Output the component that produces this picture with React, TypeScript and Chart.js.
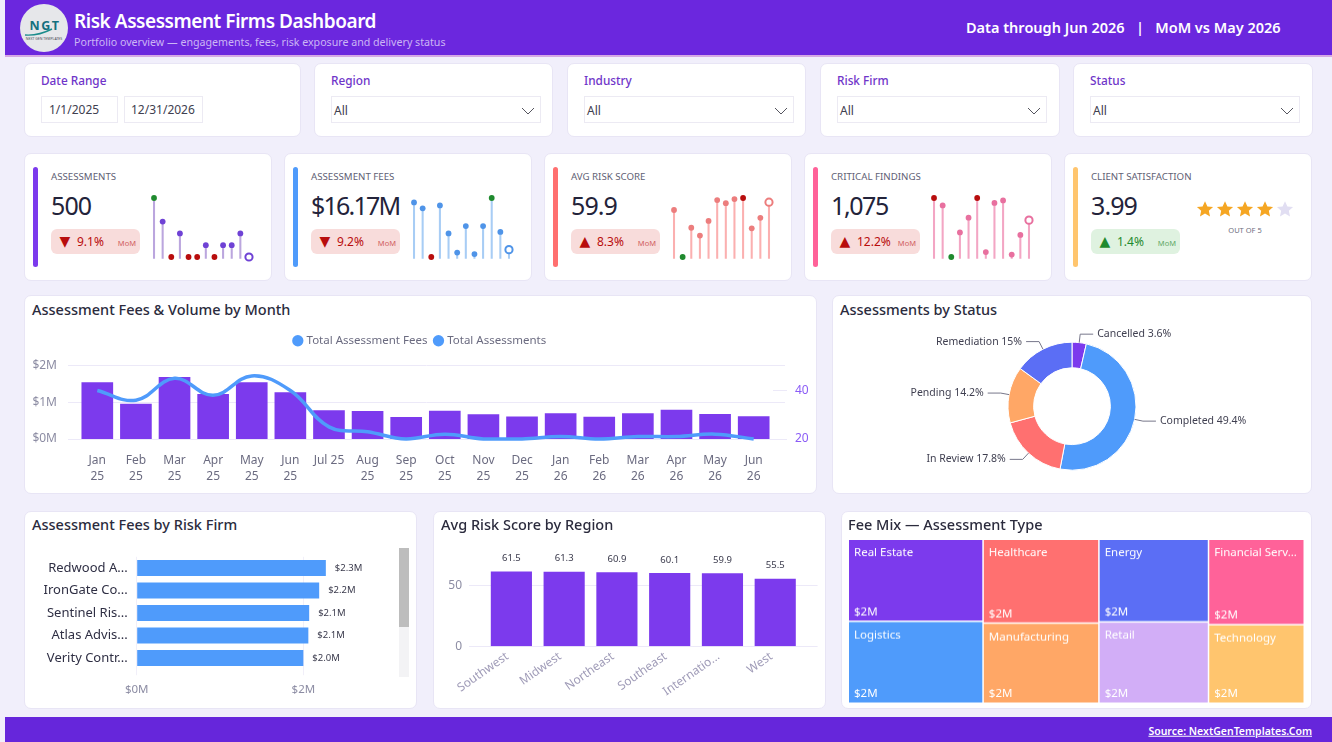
import React, { useEffect, useRef } from "react";
import { Chart, registerables } from "chart.js";

Chart.register(...registerables);

const FONT = '"Noto Sans", "Open Sans", sans-serif';
Chart.defaults.font.family = FONT;

const PURPLE = "#7C3AED";
const BLUE = "#4F9BFB";
const CORAL = "#FF7070";
const ORANGE = "#FFA766";
const INDIGO = "#5B6EF5";
const PINK = "#FF6299";
const AMBER = "#FFC56E";
const LILAC = "#D2AEF7";
const GRID = "#ECE9F8";

// monthly chart
const months = [
  ["Jan", "25"], ["Feb", "25"], ["Mar", "25"], ["Apr", "25"], ["May", "25"], ["Jun", "25"],
  "Jul 25",
  ["Aug", "25"], ["Sep", "25"], ["Oct", "25"], ["Nov", "25"], ["Dec", "25"],
  ["Jan", "26"], ["Feb", "26"], ["Mar", "26"], ["Apr", "26"], ["May", "26"], ["Jun", "26"],
];
const monthlyFees = [1.53, 0.95, 1.67, 1.21, 1.53, 1.26, 0.77, 0.75, 0.585, 0.76, 0.665, 0.6, 0.69, 0.595, 0.69, 0.785, 0.67, 0.61];
const monthlyAssessments = [40, 36, 45, 38, 46, 40, 25, 23, 20, 22, 20, 20, 21, 20, 21, 21, 22, 20];

// sparklines (last 12 months)
const riskScoreTrend = [64, 55, 60.6, 59.1, 61.9, 65.9, 65.3, 66.1, 66.3, 60.5, 62.5, 65.5];
const criticalTrend = [62, 59, 38, 48, 54, 62, 40, 60, 61, 39, 47, 53];

// donut
const statusNames = ["Cancelled", "Completed", "In Review", "Pending", "Remediation"];
const statusShares = [3.6, 49.4, 17.8, 14.2, 15];
const statusColors = [PURPLE, BLUE, CORAL, ORANGE, INDIGO];

// firms
const firmNames = ["Redwood A...", "IronGate Co...", "Sentinel Ris...", "Atlas Advis...", "Verity Contr..."];
const firmFees = [2.27, 2.19, 2.07, 2.06, 2.0];

// regions
const regionNames = ["Southwest", "Midwest", "Northeast", "Southeast", "Internatio...", "West"];
const regionScores = [61.5, 61.3, 60.9, 60.1, 59.9, 55.5];

// treemap
const tileNames = ["Real Estate", "Logistics", "Healthcare", "Manufacturing", "Energy", "Retail", "Financial Serv...", "Technology"];
const tileFees = [2.38, 2.38, 2.09, 2.0, 1.95, 1.92, 1.76, 1.62];
const tileColumns = [0, 0, 1, 1, 2, 2, 3, 3];
const tileColors = [PURPLE, BLUE, CORAL, ORANGE, INDIGO, LILAC, PINK, AMBER];

const filterNames = ["Region", "Industry", "Risk Firm", "Status"];
const filterLefts = [314, 567, 820, 1073];

function ChartBox({ x, y, w, h, make }) {
  const ref = useRef(null);
  useEffect(() => {
    const chart = new Chart(ref.current.getContext("2d"), make());
    return () => chart.destroy();
  }, []);
  return (
    <canvas ref={ref} width={w} height={h} style={{ position: "absolute", left: x, top: y, width: w, height: h }} />
  );
}

function T({ x, y, size, color = "#2B2B3D", weight = 400, right = false, center = false, style = {}, children }) {
  const tx = center ? "-50%" : right ? "-100%" : "0";
  return (
    <div style={{ position: "absolute", left: x, top: y, fontSize: size, color, fontWeight: weight, lineHeight: 1, whiteSpace: "nowrap", transform: `translate(${tx}, -50%)`, ...style }}>
      {children}
    </div>
  );
}

function Card({ x, y, w, h }) {
  return <div style={{ position: "absolute", left: x, top: y, width: w - 2, height: h - 2, background: "#fff", border: "1px solid #E8E5F5", borderRadius: 7 }} />;
}

// grid lines reach a bit past the plot on both sides
const gridBleed = {
  id: "gridBleed",
  beforeDatasetsDraw(chart, _args, opts) {
    const { ctx, chartArea, scales } = chart;
    ctx.save();
    ctx.strokeStyle = GRID;
    ctx.lineWidth = 1;
    scales.y.ticks.forEach((t) => {
      const py = Math.round(scales.y.getPixelForValue(t.value)) + 0.5;
      ctx.beginPath();
      ctx.moveTo(chartArea.left - opts.left, py);
      ctx.lineTo(chartArea.right + opts.right, py);
      ctx.stroke();
    });
    ctx.restore();
  },
};

const barValues = {
  id: "barValues",
  afterDatasetsDraw(chart, _args, opts) {
    const { ctx } = chart;
    ctx.save();
    ctx.font = `${opts.size}px ${FONT}`;
    ctx.fillStyle = "#3A3A4C";
    ctx.textBaseline = "middle";
    chart.getDatasetMeta(0).data.forEach((bar, i) => {
      const text = opts.format(chart.data.datasets[0].data[i]);
      if (opts.horizontal) {
        ctx.textAlign = "left";
        ctx.fillText(text, bar.x + 9, bar.y);
      } else {
        ctx.textAlign = "center";
        ctx.fillText(text, bar.x, bar.y - 13);
      }
    });
    ctx.restore();
  },
};

const donutLabels = {
  id: "donutLabels",
  afterDatasetsDraw(chart) {
    const { ctx } = chart;
    ctx.save();
    ctx.font = `10.5px ${FONT}`;
    ctx.fillStyle = "#3F3F50";
    ctx.strokeStyle = "#77778A";
    ctx.lineWidth = 1;
    ctx.textBaseline = "middle";
    chart.getDatasetMeta(0).data.forEach((arc, i) => {
      const mid = (arc.startAngle + arc.endAngle) / 2;
      const ax = arc.x + Math.cos(mid) * arc.outerRadius;
      const ay = arc.y + Math.sin(mid) * arc.outerRadius;
      const ex = arc.x + Math.cos(mid) * (arc.outerRadius + 8.5);
      const ey = arc.y + Math.sin(mid) * (arc.outerRadius + 8.5);
      const dir = Math.cos(mid) >= 0 ? 1 : -1;
      ctx.beginPath();
      ctx.moveTo(ax, ay);
      ctx.lineTo(ex, ey);
      ctx.lineTo(ex + dir * 13, ey);
      ctx.stroke();
      ctx.textAlign = dir > 0 ? "left" : "right";
      ctx.fillText(`${statusNames[i]} ${statusShares[i]}%`, ex + dir * 17, ey);
    });
    ctx.restore();
  },
};

const treemap = {
  id: "treemap",
  afterDraw(chart) {
    const { ctx, scales } = chart;
    const columnSums = [0, 0, 0, 0];
    tileFees.forEach((v, i) => (columnSums[tileColumns[i]] += v));
    let xStart = 0;
    columnSums.forEach((sum, col) => {
      let yStart = 0;
      tileFees.forEach((v, i) => {
        if (tileColumns[i] !== col) return;
        const x0 = scales.x.getPixelForValue(xStart);
        const x1 = scales.x.getPixelForValue(xStart + sum);
        const y0 = scales.y.getPixelForValue(yStart);
        const y1 = scales.y.getPixelForValue(yStart + v / sum);
        ctx.fillStyle = tileColors[i];
        ctx.fillRect(x0, y0, x1 - x0 - 1.5, y1 - y0 - 1.5);
        ctx.fillStyle = "#fff";
        ctx.textBaseline = "middle";
        ctx.textAlign = "left";
        ctx.font = `11.5px ${FONT}`;
        ctx.fillText(tileNames[i], x0 + 5, y0 + 13);
        ctx.fillText("$" + v.toFixed(0) + "M", x0 + 5, y1 - 10);
        yStart += v / sum;
      });
      xStart += sum;
    });
  },
};

function sparkConfig(values, color, stem, maxColor, minColor) {
  const lo = Math.min(...values);
  const hi = Math.max(...values);
  const last = values.length - 1;
  const pick = (v, i, normal) => (i === last ? "#fff" : v === hi ? maxColor : v === lo ? minColor : normal);
  return {
    type: "bar",
    data: {
      labels: values.map((_, i) => i),
      datasets: [
        {
          type: "line",
          data: values,
          showLine: false,
          clip: false,
          order: 0,
          pointBackgroundColor: values.map((v, i) => pick(v, i, color)),
          pointBorderColor: values.map((v, i) => (i === last ? color : pick(v, i, color))),
          pointBorderWidth: values.map((_, i) => (i === last ? 2 : 0)),
          pointRadius: values.map((_, i) => (i === last ? 3.6 : 2.9)),
        },
        { data: values, backgroundColor: stem, barThickness: 1.4, order: 1 },
      ],
    },
    options: {
      animation: false,
      responsive: false,
      layout: { padding: { left: 9.7, right: 10.7, top: 10, bottom: 9.3 } },
      plugins: { legend: { display: false }, tooltip: { enabled: false } },
      scales: {
        x: { display: false },
        y: { display: false, min: lo - (1.7 * (hi - lo)) / 59, max: hi },
      },
    },
  };
}

function comboConfig() {
  return {
    type: "bar",
    data: {
      labels: months,
      datasets: [
        { type: "line", label: "Total Assessments", data: monthlyAssessments, yAxisID: "y1", borderColor: BLUE, borderWidth: 3.5, pointRadius: 0, tension: 0.4, clip: false, order: 0 },
        { label: "Total Assessment Fees", data: monthlyFees, backgroundColor: PURPLE, barThickness: 31, order: 1 },
      ],
    },
    options: {
      animation: false,
      responsive: false,
      plugins: {
        tooltip: { enabled: false },
        gridBleed: { left: 10, right: 12 },
        legend: {
          labels: {
            usePointStyle: true,
            pointStyle: "circle",
            boxWidth: 6,
            boxHeight: 8,
            padding: 8,
            color: "#6B6B80",
            font: { size: 11.5 },
            generateLabels: () =>
              ["Total Assessment Fees", "Total Assessments"].map((text) => ({ text, fillStyle: BLUE, strokeStyle: BLUE, lineWidth: 0, pointStyle: "circle", fontColor: "#6B6B80" })),
          },
        },
      },
      scales: {
        x: {
          grid: { display: false },
          border: { display: false },
          afterFit: (s) => { s.height = 55; },
          ticks: { autoSkip: false, maxRotation: 0, color: "#6B6B80", padding: 6, font: { size: 12, lineHeight: 1.3 } },
        },
        y: {
          min: 0,
          max: 85 / 38,
          afterFit: (s) => { s.width = 54; },
          grid: { display: false, drawTicks: false },
          border: { display: false },
          ticks: { stepSize: 1, includeBounds: false, padding: 21, color: "#8C8CA3", font: { size: 12 }, callback: (v) => "$" + v + "M" },
        },
        y1: {
          position: "right",
          min: 20,
          max: 54,
          afterFit: (s) => { s.width = 44; },
          afterBuildTicks: (s) => { s.ticks = [{ value: 20 }, { value: 40 }]; },
          border: { display: false },
          grid: { drawOnChartArea: false, color: GRID, tickLength: 14 },
          ticks: { padding: 8, color: "#8B5CF6", font: { size: 12 } },
        },
      },
    },
    plugins: [gridBleed],
  };
}

function donutConfig() {
  return {
    type: "doughnut",
    data: {
      labels: statusNames,
      datasets: [{ data: statusShares, backgroundColor: statusColors, borderColor: "#fff", borderWidth: 1 }],
    },
    options: {
      animation: false,
      responsive: false,
      cutout: "60%",
      layout: { padding: { top: 30.7, bottom: 30.3, left: 0, right: 0 } },
      plugins: { legend: { display: false }, tooltip: { enabled: false } },
    },
    plugins: [donutLabels],
  };
}

function firmConfig() {
  return {
    type: "bar",
    data: { labels: firmNames, datasets: [{ data: firmFees, backgroundColor: BLUE, barPercentage: 0.705, categoryPercentage: 1 }] },
    options: {
      indexAxis: "y",
      animation: false,
      responsive: false,
      layout: { padding: { top: 12.6, right: 27 } },
      plugins: {
        legend: { display: false },
        tooltip: { enabled: false },
        barValues: { horizontal: true, size: 9.5, format: (v) => "$" + v.toFixed(1) + "M" },
      },
      scales: {
        x: {
          min: 0,
          max: 3.04,
          afterFit: (s) => { s.height = 39.8; },
          border: { display: false },
          grid: { color: "#F1EFF9", tickLength: 6 },
          ticks: { stepSize: 2, includeBounds: false, padding: 8, color: "#8C8CA3", font: { size: 11.5 }, callback: (v) => "$" + v + "M" },
        },
        y: {
          afterFit: (s) => { s.width = 112.7; },
          border: { display: false },
          grid: { display: false, drawTicks: false },
          ticks: { autoSkip: false, padding: 9, color: "#2F2F44", font: { size: 13 } },
        },
      },
    },
    plugins: [barValues],
  };
}

function regionConfig() {
  return {
    type: "bar",
    data: { labels: regionNames, datasets: [{ data: regionScores, backgroundColor: PURPLE, barPercentage: 0.78, categoryPercentage: 1 }] },
    options: {
      animation: false,
      responsive: false,
      layout: { padding: { right: 24.4 } },
      plugins: {
        legend: { display: false },
        tooltip: { enabled: false },
        gridBleed: { left: 16, right: 16 },
        barValues: { horizontal: false, size: 9.5, format: (v) => v.toFixed(1) },
      },
      scales: {
        x: {
          afterFit: (s) => { s.height = 62.7; },
          border: { display: false },
          grid: { display: false, drawTicks: false },
          ticks: { autoSkip: false, minRotation: 35, maxRotation: 35, padding: 3, labelOffset: -4, color: "#A09CB8", font: { size: 12 } },
        },
        y: {
          min: 0,
          // tick padding also pads the top of the axis, so the plot starts about 30px down
          max: 62.5,
          afterFit: (s) => { s.width = 52; },
          border: { display: false },
          grid: { display: false, drawTicks: false },
          ticks: { stepSize: 50, includeBounds: false, padding: 23, color: "#8C8CA3", font: { size: 12 } },
        },
      },
    },
    plugins: [gridBleed, barValues],
  };
}

function treemapConfig() {
  const total = tileFees.reduce((a, b) => a + b, 0);
  return {
    type: "scatter",
    data: { datasets: [] },
    options: {
      animation: false,
      responsive: false,
      plugins: { legend: { display: false }, tooltip: { enabled: false } },
      scales: {
        x: { display: false, min: 0, max: total },
        y: { display: false, min: 0, max: 1, reverse: true },
      },
    },
    plugins: [treemap],
  };
}

const GOOD_BG = "#DFF2E0";
const BAD_BG = "#F8DCDB";

function Kpi({ x, accent, title, value, spacing = -0.9, delta, up, good, children }) {
  const main = good ? "#1F8A2E" : "#B80D0D";
  return (
    <>
      <Card x={x} y={153} w={248} h={128} />
      <div style={{ position: "absolute", left: x + 9, top: 167, width: 5, height: 100, borderRadius: 3, background: accent }} />
      <T x={x + 27} y={177} size={9.7} color="#5F5F75">{title}</T>
      <T x={x + 27} y={205} size={25} color="#23233A" style={{ letterSpacing: spacing }}>{value}</T>
      <div style={{ position: "absolute", left: x + 27, top: 229, width: 89, height: 25, borderRadius: 6, background: good ? GOOD_BG : BAD_BG }} />
      <T x={x + 41} y={241} size={14} color={main} center style={{ fontFamily: "DejaVu Sans" }}>{up ? "▲" : "▼"}</T>
      <T x={x + 53} y={242} size={12} color={main}>{delta}</T>
      <T x={x + 112} y={243.5} size={7.5} color={good ? "#5FA866" : "#D0605F"} right>MoM</T>
      {children}
    </>
  );
}

function Star({ x, color }) {
  return (
    <svg width={18} height={18} viewBox="0 0 24 24" style={{ position: "absolute", left: x - 9, top: 200 }}>
      <polygon points="12,1.5 15.2,8.5 22.8,9.3 17.1,14.4 18.7,22 12,18.1 5.3,22 6.9,14.4 1.2,9.3 8.8,8.5" fill={color} />
    </svg>
  );
}

export default function App() {
  const assessmentsTrend = monthlyAssessments.slice(6);
  const feesTrend = monthlyFees.slice(6);
  return (
    <div style={{ position: "absolute", left: 0, top: 0, width: 1332, height: 742, overflow: "hidden", background: "#F1EFFB", fontFamily: FONT }}>
      {/* header */}
      <div style={{ position: "absolute", left: 5, top: 0, width: 1327, height: 55, background: "#6B27DE", borderBottom: "2px solid #D6A8E4" }} />
      <div style={{ position: "absolute", left: 20, top: 4, width: 48, height: 48, borderRadius: 24, background: "#E6E7EA" }} />
      <T x={45} y={26} size={12.5} color="#14707F" weight={700} center style={{ letterSpacing: 1.5 }}>NGT</T>
      <svg width={36} height={10} style={{ position: "absolute", left: 24, top: 27 }}>
        <path d="M1,8 Q14,9 28,2" fill="none" stroke="#1C8C8C" strokeWidth={1.4} />
      </svg>
      <T x={44} y={39} size={3.5} color="#4A4A55" center>NEXT GEN TEMPLATES</T>
      <T x={74} y={21} size={19} color="#fff" weight={600} style={{ letterSpacing: -0.45 }}>Risk Assessment Firms Dashboard</T>
      <T x={74} y={42} size={10.65} color="#CBB6F5">Portfolio overview — engagements, fees, risk exposure and delivery status</T>
      <T x={966} y={27} size={14.5} color="#fff" weight={600} style={{ whiteSpace: "pre" }}>{"Data through Jun 2026   |   MoM vs May 2026"}</T>

      {/* filters */}
      <Card x={24} y={63} w={277} h={74} />
      <T x={41} y={81} size={11.8} color="#6F35C9" weight={500}>Date Range</T>
      <div style={{ position: "absolute", left: 41, top: 96, width: 75, height: 25, border: "1px solid #ECEAF3" }} />
      <div style={{ position: "absolute", left: 124, top: 96, width: 77, height: 25, border: "1px solid #ECEAF3" }} />
      <T x={49} y={110} size={12} color="#404050">1/1/2025</T>
      <T x={131} y={110} size={12} color="#404050">12/31/2026</T>
      {filterNames.map((name, i) => (
        <React.Fragment key={name}>
          <Card x={filterLefts[i]} y={63} w={i === 2 || i === 3 ? 240 : 239} h={74} />
          <T x={filterLefts[i] + 17} y={81} size={11.8} color="#6F35C9" weight={500}>{name}</T>
          <div style={{ position: "absolute", left: filterLefts[i] + 17, top: 96, width: 208, height: 25, border: "1px solid #ECEAF3" }} />
          <T x={filterLefts[i] + 20} y={111} size={12} color="#404050">All</T>
          <svg width={14} height={8} style={{ position: "absolute", left: filterLefts[i] + 207, top: 107 }}>
            <polyline points="1,1 7,7 13,1" fill="none" stroke="#55555F" strokeWidth={1} />
          </svg>
        </React.Fragment>
      ))}

      {/* kpis */}
      <Kpi x={24} accent={PURPLE} title="ASSESSMENTS" value="500" delta="9.1%" up={false} good={false}>
        <ChartBox x={140} y={188} w={124} h={80} make={() => sparkConfig(assessmentsTrend, "#6F42D5", "#BBA6DE", "#1F8A2E", "#B80D0D")} />
      </Kpi>
      <Kpi x={284} accent={BLUE} title="ASSESSMENT FEES" value="$16.17M" spacing={-1.8} delta="9.2%" up={false} good={false}>
        <ChartBox x={400} y={188} w={124} h={80} make={() => sparkConfig(feesTrend, "#4F94E8", "#A8CDF5", "#1F8A2E", "#B80D0D")} />
      </Kpi>
      <Kpi x={544} accent={CORAL} title="AVG RISK SCORE" value="59.9" delta="8.3%" up good={false}>
        <ChartBox x={660} y={188} w={124} h={80} make={() => sparkConfig(riskScoreTrend, "#EC7D7D", "#FBB0B0", "#B80D0D", "#1F8A2E")} />
      </Kpi>
      <Kpi x={804} accent={PINK} title="CRITICAL FINDINGS" value="1,075" spacing={-1.4} delta="12.2%" up good={false}>
        <ChartBox x={920} y={188} w={124} h={80} make={() => sparkConfig(criticalTrend, "#E8709F", "#F3A6C4", "#B80D0D", "#1F8A2E")} />
      </Kpi>
      <Kpi x={1064} accent={AMBER} title="CLIENT SATISFACTION" value="3.99" delta="1.4%" up good>
        {[1205, 1225, 1245, 1265].map((sx) => <Star key={sx} x={sx} color="#F5A623" />)}
        <Star x={1285} color="#E1DEF2" />
        <T x={1245} y={231} size={7.5} color="#6E6E80" center>OUT OF 5</T>
      </Kpi>

      {/* combo */}
      <Card x={24} y={295} w={793} h={199} />
      <T x={32} y={309} size={14.5} weight={500}>Assessment Fees &amp; Volume by Month</T>
      <ChartBox x={24} y={327} w={793} h={167} make={comboConfig} />

      {/* donut */}
      <Card x={832} y={295} w={480} h={199} />
      <T x={840} y={309} size={14.5} weight={500}>Assessments by Status</T>
      <ChartBox x={832} y={311} w={480} h={190} make={donutConfig} />

      {/* firms */}
      <Card x={24} y={511} w={393} h={198} />
      <T x={32} y={524} size={14.5} weight={500}>Assessment Fees by Risk Firm</T>
      <ChartBox x={24} y={540} w={393} h={169} make={firmConfig} />
      <div style={{ position: "absolute", left: 399, top: 548, width: 10, height: 129, background: "#F3F3F5" }} />
      <div style={{ position: "absolute", left: 399, top: 548, width: 10, height: 79, background: "#BDBDBD" }} />

      {/* regions */}
      <Card x={433} y={511} w={393} h={198} />
      <T x={441} y={524} size={14.5} weight={500}>Avg Risk Score by Region</T>
      <ChartBox x={433} y={540} w={393} h={169} make={regionConfig} />

      {/* treemap */}
      <Card x={841} y={511} w={471} h={198} />
      <T x={848} y={524} size={14.5} weight={500}>Fee Mix — Assessment Type</T>
      <ChartBox x={849} y={540} w={456} h={163.5} make={treemapConfig} />

      {/* footer */}
      <div style={{ position: "absolute", left: 5, top: 717, width: 1327, height: 25, background: "#6626DB" }} />
      <T x={1312} y={731} size={10.5} color="#fff" weight={600} right style={{ textDecoration: "underline" }}>Source: NextGenTemplates.Com</T>
    </div>
  );
}
